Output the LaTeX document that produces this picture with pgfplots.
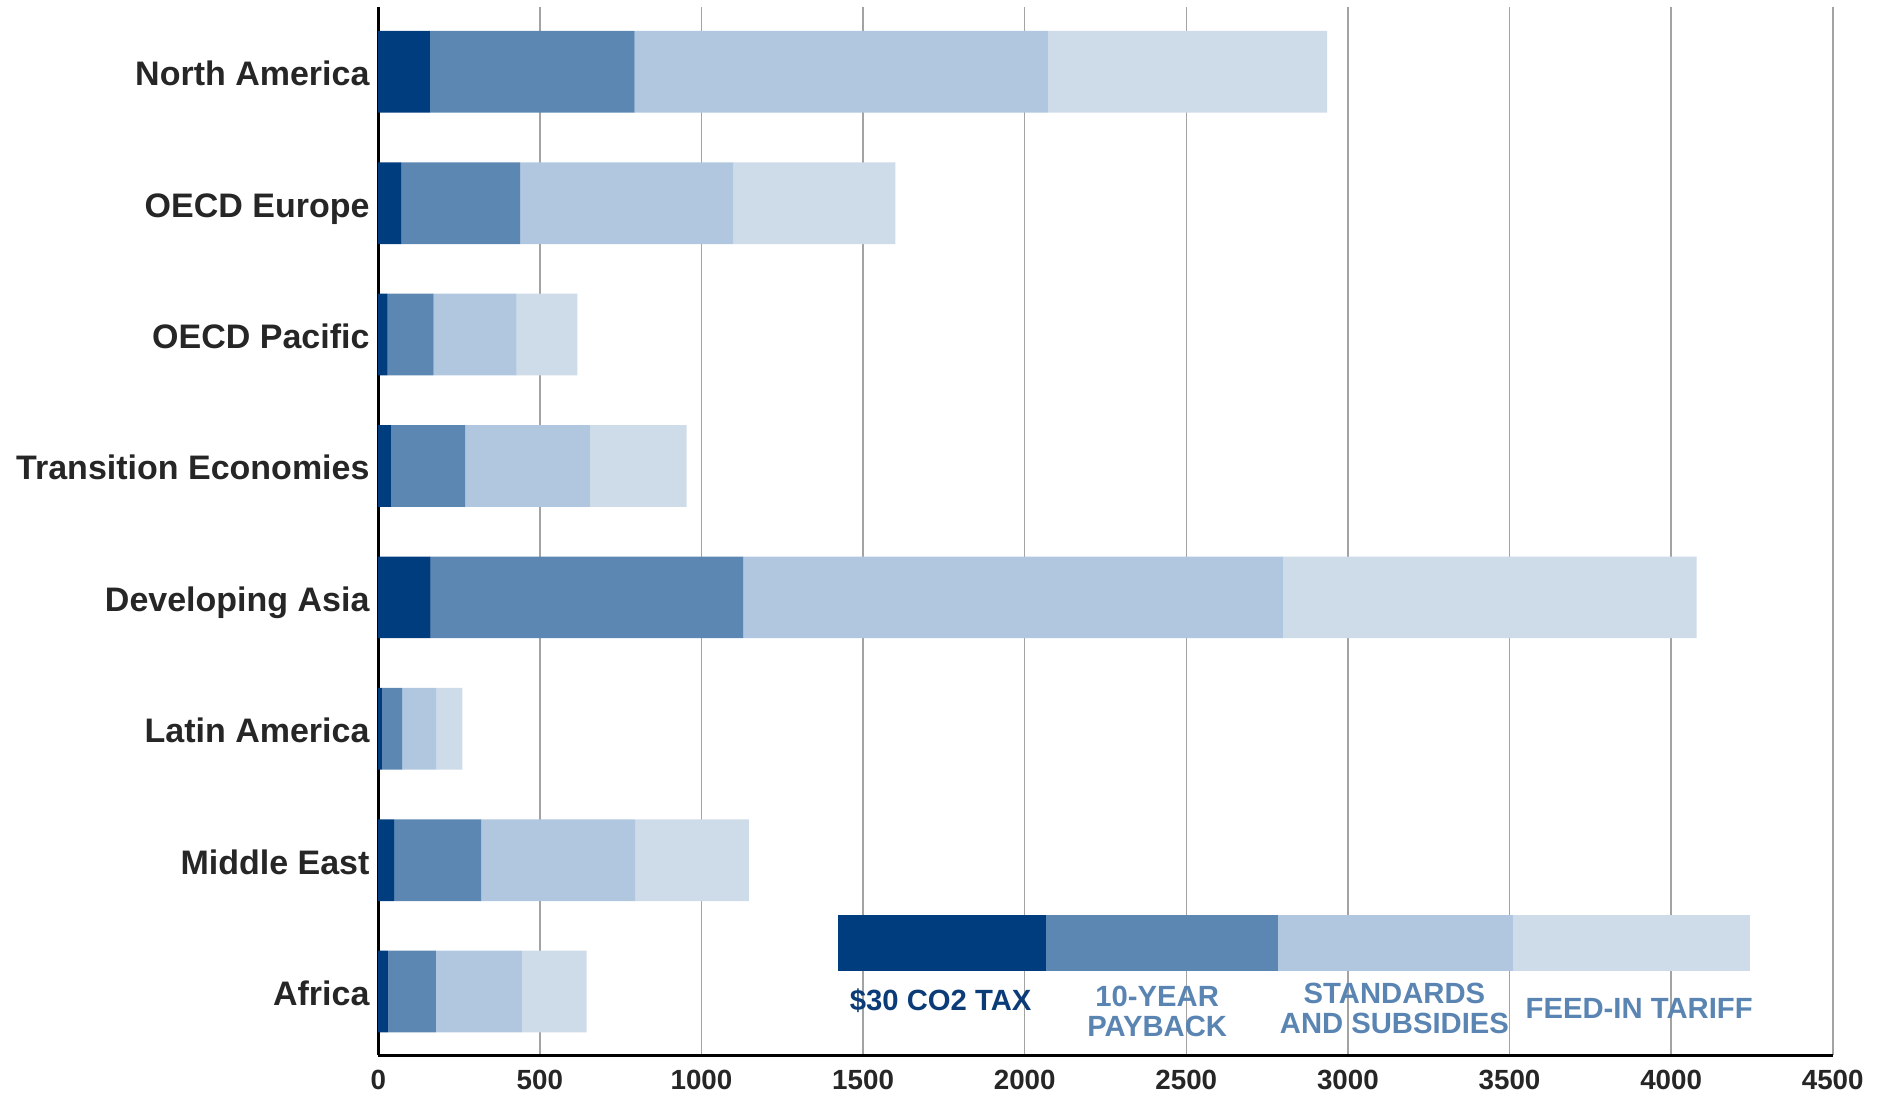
\documentclass[border=0pt]{standalone}
\usepackage{fontspec}
\setmainfont{Liberation Sans}
\usepackage{pgfplots}
\pgfplotsset{compat=1.18}

\definecolor{taxblue}{HTML}{003D7F}
\definecolor{paybackblue}{HTML}{5B87B2}
\definecolor{standardsblue}{HTML}{B0C7DF}
\definecolor{tariffblue}{HTML}{CEDBE9}
\definecolor{taxtext}{HTML}{0B3C78}
\definecolor{keytext}{HTML}{5A85B3}
\definecolor{labelgray}{HTML}{262626}
\definecolor{gridgray}{HTML}{A3A3A3}

\begin{document}
\begin{tikzpicture}
% Regions, bottom (0) to top (7); values are the increments of each stacked segment
\begin{axis}[
  scale only axis,
  width=581.8pt, height=419.2pt,
  xmin=0, xmax=4500, ymin=-0.483, ymax=7.493,
  xbar stacked, bar width=0.622,
  xtick={0,500,...,4500},
  ytick={0,...,7},
  yticklabels={Africa, Middle East, Latin America, Developing Asia,
               Transition Economies, OECD Pacific, OECD Europe, North America},
  axis x line*=bottom, axis y line*=left,
  axis line style={line width=1.2pt, black},
  xmajorgrids,
  major grid style={line width=0.6pt, gridgray},
  major tick length=0pt,
  scaled x ticks=false,
  /pgf/number format/1000 sep={},
  /pgf/number format/assume math mode=true,
  xticklabel style={font=\fontsize{11.1pt}{13pt}\selectfont\bfseries, text=labelgray,
                    anchor=base, inner sep=0pt, yshift=-13.8pt},
  yticklabel style={font=\fontsize{13.6pt}{16pt}\selectfont\bfseries, text=labelgray,
                    anchor=base east, inner sep=0pt, xshift=-3.3pt, yshift=-5.6pt},
]
\coordinate (O) at (rel axis cs:0,0);
% $30 CO2 tax
\addplot[fill=taxblue, draw=none] coordinates
  {(31,0) (49,1) (11,2) (162,3) (39,4) (29,5) (71,6) (160,7)};
% 10-year payback
\addplot[fill=paybackblue, draw=none] coordinates
  {(147,0) (269,1) (64,2) (968,3) (230,4) (142,5) (368,6) (633,7)};
% standards and subsidies
\addplot[fill=standardsblue, draw=none] coordinates
  {(268,0) (477,1) (104,2) (1669,3) (386,4) (257,5) (659,6) (1280,7)};
% feed-in tariff
\addplot[fill=tariffblue, draw=none] coordinates
  {(199,0) (352,1) (81,2) (1280,3) (299,4) (188,5) (502,6) (863,7)};
\end{axis}

% Key: one stacked bar, offset by an invisible first segment
\begin{axis}[
  scale only axis,
  width=581.8pt, height=419.2pt,
  xmin=0, xmax=4500, ymin=-0.483, ymax=7.493,
  hide axis, clip=false,
  xbar stacked, bar width=0.424,
]
\addplot[draw=none, fill=none] coordinates {(1423,0.37)};
\addplot[fill=taxblue, draw=none] coordinates {(644,0.37)};
\addplot[fill=paybackblue, draw=none] coordinates {(716,0.37)};
\addplot[fill=standardsblue, draw=none] coordinates {(727,0.37)};
\addplot[fill=tariffblue, draw=none] coordinates {(734,0.37)};

% labels are anchored at the baseline of their last line
\tikzset{keylabel/.style={anchor=base, align=center, inner sep=0pt,
  font=\fontsize{11.7pt}{12pt}\selectfont\bfseries}}
\node[keylabel, text=taxtext] at (axis cs:1740,-0.141) {\$30 CO2 TAX};
\node[keylabel, text=keytext] at (axis cs:2410,-0.339) {10-YEAR\\PAYBACK};
\node[keylabel, text=keytext] at (axis cs:3144,-0.318) {STANDARDS\\AND SUBSIDIES};
\node[keylabel, text=keytext] at (axis cs:3901,-0.202) {FEED-IN TARIFF};
\end{axis}

\pgfresetboundingbox
\path (O) ++(-151.3pt,-15.6pt) rectangle ++(754.8pt,437.6pt);
\end{tikzpicture}
\end{document}
